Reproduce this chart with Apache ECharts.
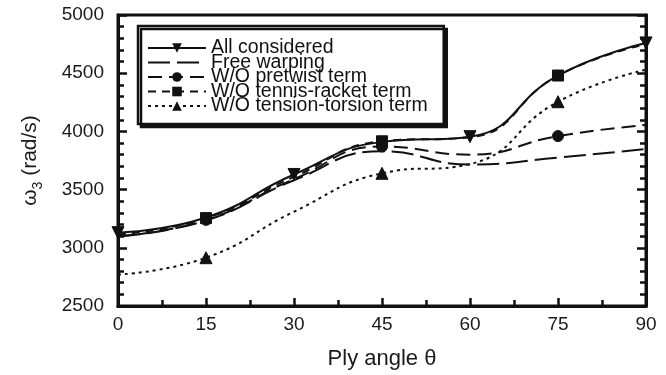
<!DOCTYPE html>
<html>
<head>
<meta charset="utf-8">
<script src="https://cdn.jsdelivr.net/npm/echarts@6/dist/echarts.min.js"></script>
<style>
  html, body { margin: 0; padding: 0; background: #fff; }
  #chart { width: 666px; height: 375px; }
</style>
</head>
<body>
<div id="chart"></div>
<script>
// Ply angle (degrees) and third natural frequency (rad/s) for each model variant
const plyAngles = [0, 15, 30, 45, 60, 75, 90];
const allConsidered = [3130, 3260, 3630, 3910, 3955, 4480, 4760];
const freeWarping = [3100, 3235, 3580, 3830, 3715, 3775, 3850];
const woPretwist = [3100, 3240, 3590, 3870, 3800, 3960, 4055];
const woTennisRacket = [3115, 3255, 3610, 3915, 3950, 4480, 4750];
const woTensionTorsion = [2770, 2915, 3310, 3640, 3720, 4255, 4530];

// Angles at which each curve carries a marker
const allMarks = [0, 30, 60, 90];
const pretwistMarks = [15, 45, 75];
const tennisMarks = [15, 45, 75];
const tensionMarks = [15, 45, 75];

const seriesNames = [
  'All considered',
  'Free warping',
  'W/O pretwist term',
  'W/O tennis-racket term',
  'W/O tension-torsion term'
];

const yTicks = { min: 2500, max: 5000, step: 500 };
const xTicks = { min: 0, max: 90, step: 15 };

const FONT = '"Liberation Sans", Arial, Helvetica, sans-serif';
const INK = '#111';

function points(values, marks) {
  return plyAngles.map((a, i) => {
    const item = { value: [a, values[i]] };
    if (!marks || marks.indexOf(a) < 0) item.symbol = 'none';
    return item;
  });
}

function curve(name, values, marks, dash, symbol, size, rotate) {
  return {
    name: name,
    type: 'line',
    smooth: 0.5,
    data: points(values, marks),
    symbol: symbol,
    symbolSize: size,
    symbolRotate: rotate || 0,
    showAllSymbol: true,
    lineStyle: { color: INK, width: 2, type: dash },
    itemStyle: { color: INK, borderColor: INK },
    emphasis: { disabled: true },
    z: 3
  };
}

const chart = echarts.init(document.getElementById('chart'), null, { renderer: 'canvas' });

const axisFont = { fontFamily: FONT, fontSize: 19, color: '#1a1a1a' };
const plain = v => String(v);

chart.setOption({
  animation: false,
  backgroundColor: '#fff',
  grid: {
    left: 118, right: 20, top: 15, bottom: 66,
    show: true, borderColor: INK, borderWidth: 3, backgroundColor: 'transparent'
  },
  legend: {
    orient: 'vertical',
    left: 138,
    top: 26,
    itemWidth: 58,
    itemHeight: 12,
    itemGap: -5.5,
    padding: [12, 16, 8, 9],
    backgroundColor: '#fff',
    borderColor: INK,
    borderWidth: 2.5,
    shadowColor: '#111',
    shadowBlur: 0,
    shadowOffsetX: 3,
    shadowOffsetY: 3,
    selectedMode: false,
    textStyle: { fontFamily: FONT, fontSize: 19.5, lineHeight: 14.5, color: '#111' },
    data: [
      seriesNames[0],
      // the free-warping curve has no marker, so its key shows the line alone
      { name: seriesNames[1], itemStyle: { opacity: 0 } },
      seriesNames[2],
      seriesNames[3],
      seriesNames[4]
    ]
  },
  xAxis: {
    type: 'value',
    min: xTicks.min, max: xTicks.max, interval: xTicks.step,
    name: 'Ply angle θ',
    nameLocation: 'middle',
    nameGap: 42,
    nameTextStyle: { fontFamily: FONT, fontSize: 22, color: '#1a1a1a' },
    axisLine: { lineStyle: { color: INK, width: 3 } },
    axisTick: { inside: true, length: 8, lineStyle: { color: INK, width: 2.5 } },
    minorTick: { show: true, splitNumber: 2, length: 6, lineStyle: { color: INK, width: 2.5 } },
    axisLabel: Object.assign({ margin: 9, formatter: plain }, axisFont),
    splitLine: { show: false }
  },
  yAxis: [
    {
      type: 'value',
      min: yTicks.min, max: yTicks.max, interval: yTicks.step,
      name: '{w|ω}{s|3}{w| (rad/s)}',
      nameLocation: 'middle',
      nameRotate: 90,
      nameGap: 73,
      nameTextStyle: {
        fontFamily: FONT, fontSize: 21, color: '#1a1a1a',
        rich: {
          w: { fontFamily: FONT, fontSize: 21, color: '#1a1a1a', lineHeight: 30 },
          s: { fontFamily: FONT, fontSize: 14, color: '#1a1a1a', verticalAlign: 'bottom', lineHeight: 30 }
        }
      },
      axisLine: { show: true, lineStyle: { color: INK, width: 3 } },
      axisTick: { inside: true, length: 9, lineStyle: { color: INK, width: 2.5 } },
      minorTick: { show: true, splitNumber: 5, length: 6, lineStyle: { color: INK, width: 2.5 } },
      axisLabel: Object.assign({ margin: 14, formatter: plain }, axisFont),
      splitLine: { show: false }
    },
    {
      type: 'value',
      position: 'right',
      min: yTicks.min, max: yTicks.max, interval: yTicks.step,
      axisLine: { show: true, lineStyle: { color: INK, width: 3 } },
      axisTick: { show: true, inside: true, length: 9, lineStyle: { color: INK, width: 2.5 } },
      minorTick: { show: true, splitNumber: 5, length: 6, lineStyle: { color: INK, width: 2.5 } },
      axisLabel: { show: false },
      splitLine: { show: false }
    }
  ],
  series: [
    curve(seriesNames[0], allConsidered, allMarks, 'solid', 'triangle', 12, 180),
    curve(seriesNames[1], freeWarping, null, [22, 7], 'none', 0),
    curve(seriesNames[2], woPretwist, pretwistMarks, [14, 7], 'circle', 11),
    curve(seriesNames[3], woTennisRacket, tennisMarks, [8, 6], 'rect', 11),
    curve(seriesNames[4], woTensionTorsion, tensionMarks, [3, 4], 'triangle', 12)
  ]
});
</script>
</body>
</html>
